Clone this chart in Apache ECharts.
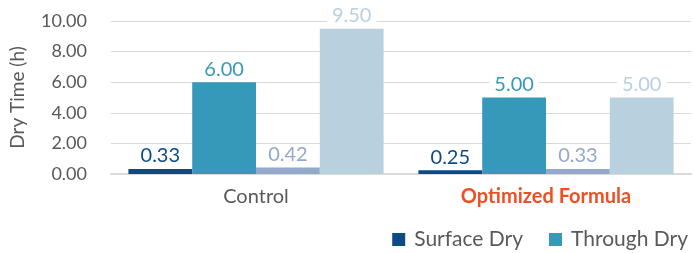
<!DOCTYPE html>
<html>
<head>
<meta charset="utf-8">
<script src="https://cdn.jsdelivr.net/npm/echarts@6/dist/echarts.min.js"></script>
<style>
  html, body { margin: 0; padding: 0; background: #fff; }
  #chart { width: 695px; height: 253px; }
</style>
</head>
<body>
<div id="chart"></div>
<script>
var categories = ['Control', 'Optimized Formula']
var surfaceDry = [0.33, 0.25]
var throughDry = [6.00, 5.00]
var surfaceDry2 = [0.42, 0.33]
var throughDry2 = [9.50, 5.00]
var yTicks = [0, 2, 4, 6, 8, 10]

var font = 'Lato, "Open Sans", sans-serif'

function makeSeries (name, data, color) {
  return {
    name: name,
    type: 'bar',
    data: data,
    barGap: '0%',
    barCategoryGap: '12%',
    itemStyle: { color: color },
    label: {
      show: true,
      position: 'top',
      distance: 3,
      color: color,
      fontFamily: font,
      fontSize: 20,
      backgroundColor: '#fff',
      padding: [0, 5],
      formatter: function (p) { return p.value.toFixed(2) }
    }
  }
}

var chart = echarts.init(document.getElementById('chart'))
chart.setOption({
  animation: false,
  textStyle: { fontFamily: font },
  grid: { left: 108, right: 4, top: 21, bottom: 79 },
  legend: {
    data: ['Surface Dry', 'Through Dry'],
    right: 2,
    bottom: -2,
    itemWidth: 13,
    itemHeight: 13,
    itemGap: 26,
    icon: 'rect',
    textStyle: { fontSize: 21, color: '#595959', fontFamily: font, padding: [0, 0, 0, 4] }
  },
  xAxis: {
    type: 'category',
    data: categories,
    axisTick: { show: false },
    axisLine: { lineStyle: { color: '#d9d9d9', width: 2 } },
    axisLabel: {
      margin: 13,
      fontSize: 20,
      color: '#595959',
      fontFamily: font,
      formatter: function (v) { return v === 'Optimized Formula' ? '{hl|' + v + '}' : v },
      rich: { hl: { color: '#f04e23', fontWeight: 'bold', fontSize: 20, fontFamily: font } }
    }
  },
  yAxis: {
    type: 'value',
    min: yTicks[0],
    max: yTicks[yTicks.length - 1],
    interval: 2,
    name: 'Dry Time (h)',
    nameLocation: 'middle',
    nameGap: 84,
    nameTextStyle: { fontSize: 19, color: '#595959', fontFamily: font },
    axisLabel: {
      margin: 24,
      fontSize: 18,
      color: '#595959',
      fontFamily: font,
      formatter: function (v) { return v.toFixed(2) }
    },
    splitLine: { lineStyle: { color: '#d9d9d9', width: 1 } }
  },
  series: [
    makeSeries('Surface Dry', surfaceDry, '#0b4c86'),
    makeSeries('Through Dry', throughDry, '#3799b9'),
    makeSeries('Surface Dry (2)', surfaceDry2, '#94a8cb'),
    makeSeries('Through Dry (2)', throughDry2, '#b9d1de')
  ]
})
</script>
</body>
</html>
